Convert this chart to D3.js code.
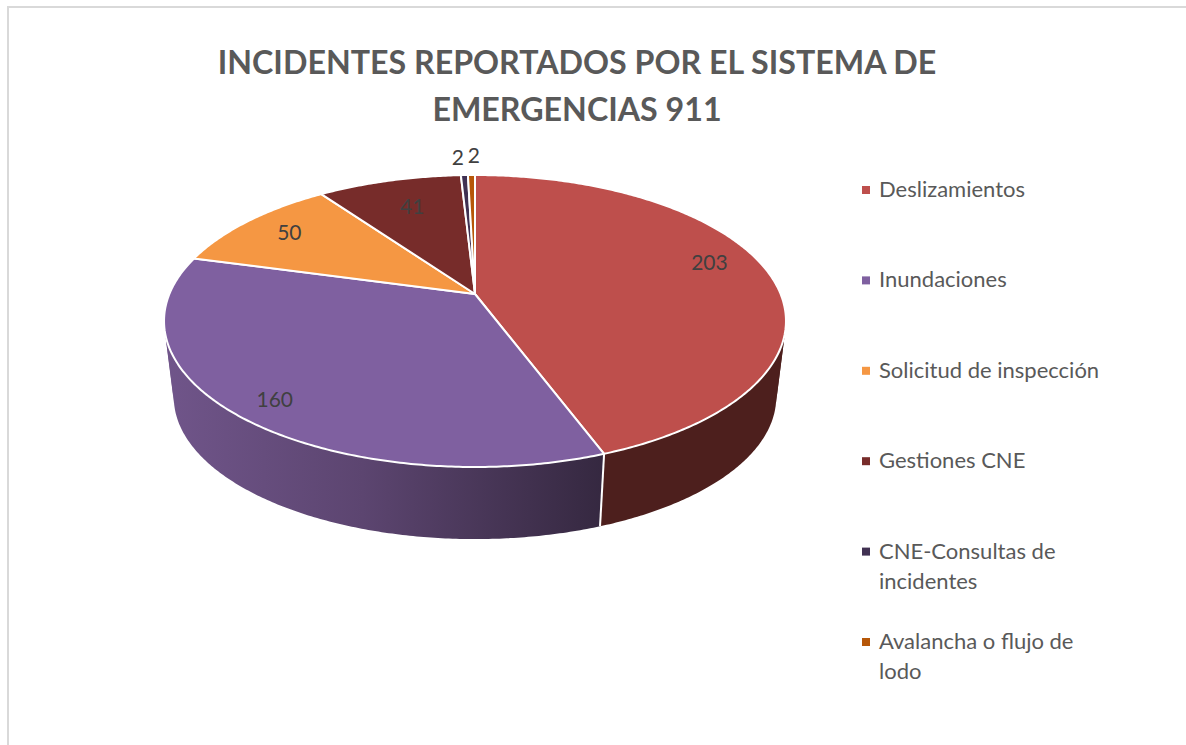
<!DOCTYPE html>
<html>
<head>
<meta charset="utf-8">
<script src="https://cdn.jsdelivr.net/npm/d3@7"></script>
<style>
  html, body { margin: 0; padding: 0; background: #fff; overflow: hidden; }
  text { font-family: Lato, "Open Sans", sans-serif; }
</style>
</head>
<body>
<script>
var categories = ["Deslizamientos", "Inundaciones", "Solicitud de inspección", "Gestiones CNE", "CNE-Consultas de incidentes", "Avalancha o flujo de lodo"];
var values = [203, 160, 50, 41, 2, 2];
var colors = ["#BE4F4C", "#7F60A0", "#F59743", "#772C2A", "#403152", "#B65708"];
var titleLines = ["INCIDENTES REPORTADOS POR EL SISTEMA DE", "EMERGENCIAS 911"];

var width = 1186,
  height = 745;

var svg = d3.select("body").append("svg")
  .attr("width", width)
  .attr("height", height);

svg.append("rect")
  .attr("x", 8)
  .attr("y", 7)
  .attr("width", width + 20)
  .attr("height", height + 20)
  .attr("fill", "#fff")
  .attr("stroke", "#d9d9d9")
  .attr("stroke-width", 2);

svg.selectAll(".title")
  .data(titleLines)
  .enter().append("text")
  .attr("class", "title")
  .attr("x", 577)
  .attr("y", function (d, i) { return 74 + i * 47; })
  .attr("text-anchor", "middle")
  .attr("font-size", 32.2)
  .attr("font-weight", 700)
  .attr("fill", "#595959")
  .text(function (d) { return d; });

// the pie is a tilted disc, so rim points go through a perspective projection
var tilt = 0.185;
var topDisc = { x: 475, y: 294, a: 305.6, b: 141 };
var bottomDisc = { x: 475, y: 371, a: 296, b: 137 };

function project(disc, theta, r) {
  var u = r * Math.sin(theta),
    c = -r * Math.cos(theta),
    w = 1 - tilt * c;
  return [disc.x + disc.a * u / w, disc.y + disc.b * c / w];
}

var pie = d3.pie().sort(null).value(function (d) { return d; });
var slices = pie(values);

function rim(disc, from, to) {
  var n = Math.max(2, Math.ceil(Math.abs(to - from) / 0.01));
  return d3.range(n + 1).map(function (i) {
    return project(disc, from + (to - from) * i / n, 1);
  });
}

var line = d3.line();

// side wall
var defs = svg.append("defs");
var wallGradient = defs.append("linearGradient")
  .attr("id", "wall-purple")
  .attr("gradientUnits", "userSpaceOnUse")
  .attr("x1", 165)
  .attr("y1", 0)
  .attr("x2", 604)
  .attr("y2", 0);
wallGradient.append("stop").attr("offset", "0%").attr("stop-color", "#70558A");
wallGradient.append("stop").attr("offset", "45%").attr("stop-color", "#5C4570");
wallGradient.append("stop").attr("offset", "100%").attr("stop-color", "#352840");

function wallPath(from, to) {
  return line(rim(topDisc, from, to).concat(rim(bottomDisc, to, from))) + "Z";
}

// cut each wall where it turns away from the viewer, otherwise the polygon twists
var rightTurn = 1.83,
  leftTurn = 4.5;

var wallPieces = [
  { from: 0.6, to: rightTurn, fill: "#4D1F1D" },
  { from: rightTurn - 0.03, to: slices[0].endAngle, fill: "#4D1F1D" },
  { from: slices[1].startAngle, to: leftTurn, fill: "url(#wall-purple)" },
  { from: leftTurn - 0.03, to: slices[1].endAngle, fill: "url(#wall-purple)" }
];

svg.selectAll(".wall")
  .data(wallPieces)
  .enter().append("path")
  .attr("class", "wall")
  .attr("d", function (d) { return wallPath(d.from, d.to); })
  .attr("fill", function (d) { return d.fill; });

svg.append("path")
  .attr("d", line([project(topDisc, slices[0].endAngle, 1), project(bottomDisc, slices[0].endAngle, 1)]))
  .attr("stroke", "#fff")
  .attr("stroke-width", 2)
  .attr("fill", "none");

// top face
svg.selectAll(".slice")
  .data(slices)
  .enter().append("path")
  .attr("class", "slice")
  .attr("d", function (d) {
    return line([[topDisc.x, topDisc.y]].concat(rim(topDisc, d.startAngle, d.endAngle))) + "Z";
  })
  .attr("fill", function (d, i) { return colors[i]; })
  .attr("stroke", "#fff")
  .attr("stroke-width", 2)
  .attr("stroke-linejoin", "round");

// data labels: radius fraction on the disc, then a small nudge like the original placement
var labelRadius = [0.8, 0.8, 0.8, 0.8, 1.17, 1.17];
var labelNudge = [[0, -12], [-15, 12], [-1, -2], [8, 6], [-5, -1], [3, -3]];

svg.selectAll(".value")
  .data(slices)
  .enter().append("text")
  .attr("class", "value")
  .attr("x", function (d, i) {
    return project(topDisc, (d.startAngle + d.endAngle) / 2, labelRadius[i])[0] + labelNudge[i][0];
  })
  .attr("y", function (d, i) {
    return project(topDisc, (d.startAngle + d.endAngle) / 2, labelRadius[i])[1] + labelNudge[i][1];
  })
  .attr("dy", "0.35em")
  .attr("text-anchor", "middle")
  .attr("font-size", 21)
  .attr("fill", "#404040")
  .text(function (d) { return d.value; });

// legend
var legendY = d3.scaleLinear().domain([0, 5]).range([190, 642]);
var legendWrap = 225;

var legend = svg.selectAll(".legend")
  .data(categories)
  .enter().append("g")
  .attr("class", "legend")
  .attr("transform", function (d, i) { return "translate(862," + legendY(i) + ")"; });

legend.append("rect")
  .attr("x", 0)
  .attr("y", -4)
  .attr("width", 8)
  .attr("height", 8)
  .attr("fill", function (d, i) { return colors[i]; });

legend.append("text")
  .attr("x", 17)
  .attr("font-size", 22)
  .attr("fill", "#595959")
  .each(function (d) {
    var text = d3.select(this);
    var words = d.split(" ");
    var current = [];
    var n = 0;
    var tspan = text.append("tspan").attr("x", 17).attr("y", 7);
    words.forEach(function (w) {
      current.push(w);
      tspan.text(current.join(" "));
      if (tspan.node().getComputedTextLength() > legendWrap && current.length > 1) {
        current.pop();
        tspan.text(current.join(" "));
        current = [w];
        n++;
        tspan = text.append("tspan").attr("x", 17).attr("y", 7 + n * 30).text(w);
      }
    });
  });
</script>
</body>
</html>
